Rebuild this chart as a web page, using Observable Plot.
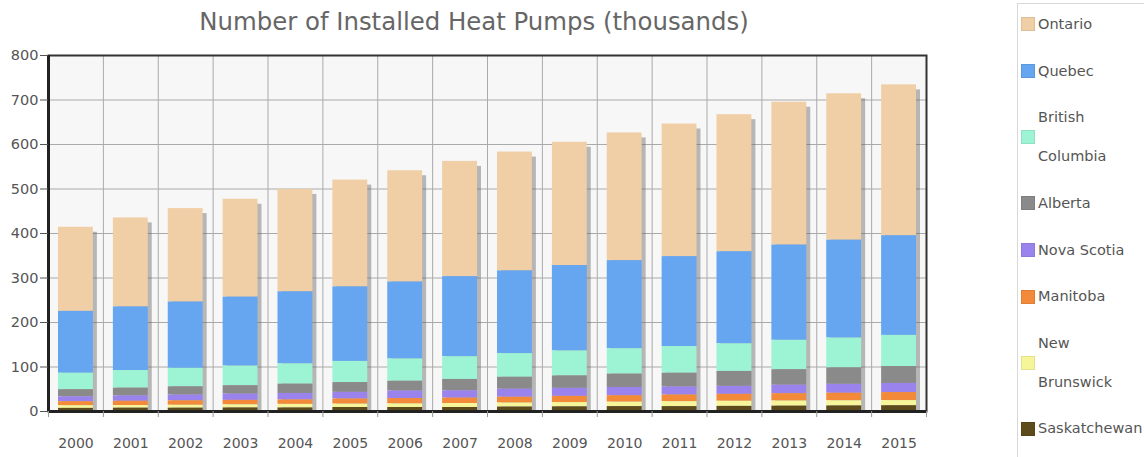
<!DOCTYPE html>
<html><head><meta charset="utf-8">
<script src="https://cdn.jsdelivr.net/npm/d3@7"></script>
<script src="https://cdn.jsdelivr.net/npm/@observablehq/plot@0.6"></script>
<style>
body{margin:0;background:#fff;font-family:"DejaVu Sans",sans-serif;}
#wrap{position:relative;width:1144px;height:457px;overflow:hidden;}
#title{position:absolute;top:4px;left:0;width:948px;text-align:center;font-size:24.4px;line-height:36px;color:#666;}
#chart{position:absolute;top:45px;left:0;}
#legend{position:absolute;left:1017px;top:3px;width:140px;height:470px;border-left:1px solid #d8d8d8;border-top:1px solid #d8d8d8;}
#rows{position:relative;top:-3px;}
.row{display:flex;align-items:center;padding:4px 0;}
.sw{width:14px;height:14px;margin-left:3px;margin-right:3px;box-sizing:border-box;border:1px solid rgba(0,0,0,0.08);flex:none;}
.lb{width:95px;font-size:14.5px;line-height:38.7px;color:#555;white-space:normal;}
</style>
</head><body>
<div id="wrap">
  <div id="title">Number of Installed Heat Pumps (thousands)</div>
  <div id="chart"></div>
  <div id="legend"><div id="rows"></div></div>
</div>
<script>
const years = ["2000","2001","2002","2003","2004","2005","2006","2007","2008","2009","2010","2011","2012","2013","2014","2015"];
const provinces = ["Ontario","Quebec","British Columbia","Alberta","Nova Scotia","Manitoba","New Brunswick","Saskatchewan"];
const colors = ["#f0cfa6","#66a5ef","#9df4d5","#8a8a8a","#9b83ee","#f28a3a","#f6f59a","#5d4b1c"];
const yTicks = [0,100,200,300,400,500,600,700,800];

const ontario      = [189,200,210,220,230,240,250,259,267,277,287,298,308,321,329,339];
const quebec       = [139,143,149,155,162,167.5,173,180,186,192,198,202,207,214,220,224];
const britishCol   = [37,39.5,41.5,44,45.5,47.5,50,51,53,56,57,60,62,66,67,70];
const alberta      = [16,17.5,18.5,19,21,22,22,25.5,27,28,30,31,33.5,35,37,38];
const novaScotia   = [11,12,13,14,14.5,15,17,16.5,18,18,18.5,18,18,19,20,20.5];
const manitoba     = [9,9.5,10,10,10,11.5,12,12,13,14,14.5,15,15.5,16.5,17,18];
const newBrunswick = [6,6,6.5,7,8,7.5,8,9,9,9.5,10,11,11.5,11.5,11.5,11.5];
const saskatchewan = [7,7.5,7.5,8,8,9,9,9,10,10.5,11,11,11.5,12,12.5,13];

const series = [ontario, quebec, britishCol, alberta, novaScotia, manitoba, newBrunswick, saskatchewan];
const table = [];
provinces.forEach((p, k) => years.forEach((y, i) => table.push({year: y, province: p, value: series[k][i]})));
const stackOrder = provinces.slice().reverse();

const W = 1000, H = 412, ML = 48, MR = 74, MT = 10, MB = 46;
const step = (W - ML - MR) / years.length;
const inset = 10;

const chart = Plot.plot({
  width: W, height: H, marginLeft: ML, marginRight: MR, marginTop: MT, marginBottom: MB,
  style: {fontFamily: '"DejaVu Sans", sans-serif', background: "transparent", overflow: "visible"},
  x: {domain: years, padding: 0, round: false, label: null},
  y: {domain: [0, 800], label: null},
  color: {domain: provinces, range: colors},
  marks: [
    Plot.frame({fill: "#f7f7f7"}),
    Plot.ruleY(yTicks.slice(1, -1), {stroke: "#aaa", strokeWidth: 1}),
    Plot.ruleX(years.slice(1), {dx: -step / 2, stroke: "#aaa", strokeWidth: 1}),
    Plot.barY(table, Plot.groupX({y: "sum"}, {x: "year", y: "value", fill: "#666", fillOpacity: 0.45, insetLeft: inset, insetRight: inset, dx: 4, dy: 5, clip: true, ariaLabel: "shadow"})),
    Plot.barY(table, {x: "year", y: "value", fill: "province", order: stackOrder, insetLeft: inset, insetRight: inset}),
    Plot.frame({stroke: "#333", strokeWidth: 2}),
    Plot.ruleY([0], {stroke: "#222", strokeWidth: 3}),
    Plot.ruleX([years[0]], {dx: -step / 2, stroke: "#222", strokeWidth: 3}),
    Plot.ruleX(years, {y1: 0, y2: 0, insetBottom: -6, dx: -step / 2, stroke: "#999"}),
    Plot.ruleX([years[years.length - 1]], {y1: 0, y2: 0, insetBottom: -6, dx: step / 2, stroke: "#999"}),
    Plot.axisY({ticks: yTicks, tickSize: 8, tickPadding: 2, fontSize: 14.5, color: "#555", label: null}),
    Plot.axisX({tickSize: 0, tickPadding: 27, fontSize: 14, color: "#555", label: null})
  ]
});

const svg = d3.select(chart);
svg.insert("defs", ":first-child").html('<filter id="shadowBlur" x="-30%" y="-10%" width="160%" height="130%"><feGaussianBlur stdDeviation="2"/></filter>');
svg.select('g[aria-label="shadow"]').attr("filter", "url(#shadowBlur)");
document.getElementById("chart").appendChild(chart);

const rows = d3.select("#rows");
provinces.forEach((p, k) => {
  const r = rows.append("div").attr("class", "row");
  r.append("div").attr("class", "sw").style("background", colors[k]);
  r.append("div").attr("class", "lb").text(p);
});
</script>
</body></html>
